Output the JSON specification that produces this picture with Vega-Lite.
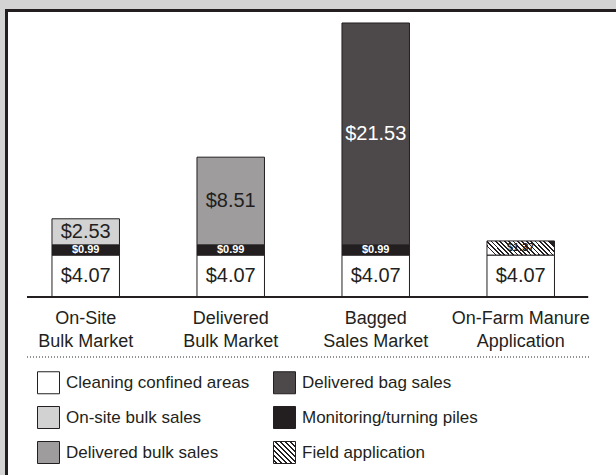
{
  "$schema": "https://vega.github.io/schema/vega-lite/v6.json",
  "autosize": "none",
  "width": 614.5,
  "height": 469.5,
  "padding": {"left": 6.5, "top": 10.5, "right": -5, "bottom": -5},
  "background": "#d3d3d3",
  "config": {
    "view": {"fill": "#ffffff", "stroke": "#231f20", "strokeWidth": 3},
    "text": {"font": "Liberation Sans"}
  },
  "params": [
    {"name": "hatchLegend", "value": {"gradient": "linear", "x1": 0, "y1": 1, "x2": 1, "y2": 0, "stops": [
      {"offset": 0, "color": "#ffffff"}, {"offset": 0.0667, "color": "#ffffff"}, {"offset": 0.0667, "color": "#231f20"}, {"offset": 0.1111, "color": "#231f20"},
      {"offset": 0.1111, "color": "#ffffff"}, {"offset": 0.1778, "color": "#ffffff"}, {"offset": 0.1778, "color": "#231f20"}, {"offset": 0.2222, "color": "#231f20"},
      {"offset": 0.2222, "color": "#ffffff"}, {"offset": 0.2889, "color": "#ffffff"}, {"offset": 0.2889, "color": "#231f20"}, {"offset": 0.3333, "color": "#231f20"},
      {"offset": 0.3333, "color": "#ffffff"}, {"offset": 0.4, "color": "#ffffff"}, {"offset": 0.4, "color": "#231f20"}, {"offset": 0.4444, "color": "#231f20"},
      {"offset": 0.4444, "color": "#ffffff"}, {"offset": 0.5111, "color": "#ffffff"}, {"offset": 0.5111, "color": "#231f20"}, {"offset": 0.5556, "color": "#231f20"},
      {"offset": 0.5556, "color": "#ffffff"}, {"offset": 0.6222, "color": "#ffffff"}, {"offset": 0.6222, "color": "#231f20"}, {"offset": 0.6667, "color": "#231f20"},
      {"offset": 0.6667, "color": "#ffffff"}, {"offset": 0.7333, "color": "#ffffff"}, {"offset": 0.7333, "color": "#231f20"}, {"offset": 0.7778, "color": "#231f20"},
      {"offset": 0.7778, "color": "#ffffff"}, {"offset": 0.8444, "color": "#ffffff"}, {"offset": 0.8444, "color": "#231f20"}, {"offset": 0.8889, "color": "#231f20"},
      {"offset": 0.8889, "color": "#ffffff"}, {"offset": 0.9556, "color": "#ffffff"}, {"offset": 0.9556, "color": "#231f20"}, {"offset": 1, "color": "#231f20"}
    ]}}
  ],
  "datasets": {
    "costs": [
      {"market": "On-Site\nBulk Market", "component": "Cleaning confined areas", "stage": 1, "value": 4.07},
      {"market": "On-Site\nBulk Market", "component": "Monitoring/turning piles", "stage": 2, "value": 0.99},
      {"market": "On-Site\nBulk Market", "component": "On-site bulk sales", "stage": 3, "value": 2.53},
      {"market": "Delivered\nBulk Market", "component": "Cleaning confined areas", "stage": 1, "value": 4.07},
      {"market": "Delivered\nBulk Market", "component": "Monitoring/turning piles", "stage": 2, "value": 0.99},
      {"market": "Delivered\nBulk Market", "component": "Delivered bulk sales", "stage": 3, "value": 8.51},
      {"market": "Bagged\nSales Market", "component": "Cleaning confined areas", "stage": 1, "value": 4.07},
      {"market": "Bagged\nSales Market", "component": "Monitoring/turning piles", "stage": 2, "value": 0.99},
      {"market": "Bagged\nSales Market", "component": "Delivered bag sales", "stage": 3, "value": 21.53},
      {"market": "On-Farm Manure\nApplication", "component": "Cleaning confined areas", "stage": 1, "value": 4.07},
      {"market": "On-Farm Manure\nApplication", "component": "Field application", "stage": 2, "value": 1.37}
    ]
  },
  "layer": [
    {
      "data": {"name": "costs"},
      "transform": [
        {"stack": "value", "groupby": ["market"], "sort": [{"field": "stage", "order": "ascending"}], "as": ["v0", "v1"]}
      ],
      "mark": {"type": "bar", "stroke": "#231f20", "strokeWidth": 1},
      "encoding": {
        "x": {
          "field": "market", "type": "nominal", "sort": null,
          "scale": {"paddingInner": 0.5345, "paddingOuter": 0.3862, "align": 0.406},
          "axis": {
            "title": null, "orient": "bottom", "offset": -183, "ticks": false, "domain": false,
            "labelFont": "Liberation Sans", "labelFontSize": 18, "labelColor": "#231f20",
            "labelLineHeight": 23, "labelPadding": 12, "labelAngle": 0, "labelLimit": 0,
            "labelExpr": "split(datum.label, '\\n')"
          }
        },
        "y": {
          "field": "v0", "type": "quantitative",
          "scale": {"domain": [-17.758, 27.803], "nice": false, "zero": false},
          "axis": null
        },
        "y2": {"field": "v1"},
        "fill": {
          "field": "component", "type": "nominal",
          "scale": {
            "domain": ["Cleaning confined areas", "On-site bulk sales", "Delivered bulk sales", "Delivered bag sales", "Monitoring/turning piles", "Field application"],
            "range": ["#ffffff", "#d2d2d2", "#9e9c9d", "#4d4849", "#231f20", {"expr": "hatchLegend"}]
          },
          "legend": {
            "orient": "none", "legendX": 30.5, "legendY": 360.5, "title": null,
            "columns": 2, "columnPadding": 21, "rowPadding": 8, "padding": 0,
            "symbolType": "square", "symbolSize": 484, "symbolStrokeColor": "#231f20", "symbolStrokeWidth": 1, "symbolOpacity": 1,
            "labelFont": "Liberation Sans", "labelFontSize": 17, "labelColor": "#231f20", "labelOffset": 6, "labelLimit": 0
          },
          "condition": {
            "test": "datum.component === 'Field application'",
            "value": {"gradient": "linear", "x1": 0, "y1": 0.602, "x2": 1, "y2": 0.398, "stops": [
              {"offset": 0, "color": "#ffffff"}, {"offset": 0.0375, "color": "#ffffff"}, {"offset": 0.0375, "color": "#231f20"}, {"offset": 0.0625, "color": "#231f20"},
              {"offset": 0.0625, "color": "#ffffff"}, {"offset": 0.1, "color": "#ffffff"}, {"offset": 0.1, "color": "#231f20"}, {"offset": 0.125, "color": "#231f20"},
              {"offset": 0.125, "color": "#ffffff"}, {"offset": 0.1625, "color": "#ffffff"}, {"offset": 0.1625, "color": "#231f20"}, {"offset": 0.1875, "color": "#231f20"},
              {"offset": 0.1875, "color": "#ffffff"}, {"offset": 0.225, "color": "#ffffff"}, {"offset": 0.225, "color": "#231f20"}, {"offset": 0.25, "color": "#231f20"},
              {"offset": 0.25, "color": "#ffffff"}, {"offset": 0.2875, "color": "#ffffff"}, {"offset": 0.2875, "color": "#231f20"}, {"offset": 0.3125, "color": "#231f20"},
              {"offset": 0.3125, "color": "#ffffff"}, {"offset": 0.35, "color": "#ffffff"}, {"offset": 0.35, "color": "#231f20"}, {"offset": 0.375, "color": "#231f20"},
              {"offset": 0.375, "color": "#ffffff"}, {"offset": 0.4125, "color": "#ffffff"}, {"offset": 0.4125, "color": "#231f20"}, {"offset": 0.4375, "color": "#231f20"},
              {"offset": 0.4375, "color": "#ffffff"}, {"offset": 0.475, "color": "#ffffff"}, {"offset": 0.475, "color": "#231f20"}, {"offset": 0.5, "color": "#231f20"},
              {"offset": 0.5, "color": "#ffffff"}, {"offset": 0.5375, "color": "#ffffff"}, {"offset": 0.5375, "color": "#231f20"}, {"offset": 0.5625, "color": "#231f20"},
              {"offset": 0.5625, "color": "#ffffff"}, {"offset": 0.6, "color": "#ffffff"}, {"offset": 0.6, "color": "#231f20"}, {"offset": 0.625, "color": "#231f20"},
              {"offset": 0.625, "color": "#ffffff"}, {"offset": 0.6625, "color": "#ffffff"}, {"offset": 0.6625, "color": "#231f20"}, {"offset": 0.6875, "color": "#231f20"},
              {"offset": 0.6875, "color": "#ffffff"}, {"offset": 0.725, "color": "#ffffff"}, {"offset": 0.725, "color": "#231f20"}, {"offset": 0.75, "color": "#231f20"},
              {"offset": 0.75, "color": "#ffffff"}, {"offset": 0.7875, "color": "#ffffff"}, {"offset": 0.7875, "color": "#231f20"}, {"offset": 0.8125, "color": "#231f20"},
              {"offset": 0.8125, "color": "#ffffff"}, {"offset": 0.85, "color": "#ffffff"}, {"offset": 0.85, "color": "#231f20"}, {"offset": 0.875, "color": "#231f20"},
              {"offset": 0.875, "color": "#ffffff"}, {"offset": 0.9125, "color": "#ffffff"}, {"offset": 0.9125, "color": "#231f20"}, {"offset": 0.9375, "color": "#231f20"},
              {"offset": 0.9375, "color": "#ffffff"}, {"offset": 0.975, "color": "#ffffff"}, {"offset": 0.975, "color": "#231f20"}, {"offset": 1, "color": "#231f20"}
            ]}
          }
        }
      }
    },
    {
      "data": {"name": "costs"},
      "transform": [
        {"stack": "value", "groupby": ["market"], "sort": [{"field": "stage", "order": "ascending"}], "as": ["v0", "v1"]},
        {"calculate": "(datum.v0 + datum.v1) / 2", "as": "mid"},
        {"filter": "datum.value >= 1.5"}
      ],
      "mark": {"type": "text", "font": "Liberation Sans", "fontSize": 20, "baseline": "middle", "align": "center"},
      "encoding": {
        "x": {"field": "market", "type": "nominal", "sort": null},
        "y": {"field": "mid", "type": "quantitative"},
        "text": {"field": "value", "type": "quantitative", "format": "$.2f"},
        "color": {"condition": {"test": "datum.component === 'Delivered bag sales'", "value": "#ffffff"}, "value": "#231f20"}
      }
    },
    {
      "data": {"name": "costs"},
      "transform": [
        {"stack": "value", "groupby": ["market"], "sort": [{"field": "stage", "order": "ascending"}], "as": ["v0", "v1"]},
        {"calculate": "(datum.v0 + datum.v1) / 2", "as": "mid"},
        {"filter": "datum.value < 1.5"}
      ],
      "mark": {"type": "text", "font": "Liberation Sans", "fontSize": 11, "fontWeight": "bold", "baseline": "middle", "align": "center"},
      "encoding": {
        "x": {"field": "market", "type": "nominal", "sort": null},
        "y": {"field": "mid", "type": "quantitative"},
        "text": {"field": "value", "type": "quantitative", "format": "$.2f"},
        "color": {"condition": {"test": "datum.component === 'Monitoring/turning piles'", "value": "#ffffff"}, "value": "#231f20"}
      }
    },
    {
      "data": {"values": [{}]},
      "mark": {"type": "rule", "stroke": "#231f20", "strokeWidth": 2},
      "encoding": {
        "x": {"datum": "On-Site\nBulk Market", "type": "nominal", "bandPosition": -0.37},
        "x2": {"datum": "On-Farm Manure\nApplication", "bandPosition": 1.5},
        "y": {"datum": 0}
      }
    },
    {
      "data": {"values": [{}]},
      "mark": {"type": "rule", "stroke": "#231f20", "strokeWidth": 1, "strokeDash": [1, 2]},
      "encoding": {
        "x": {"datum": "On-Site\nBulk Market", "type": "nominal", "bandPosition": -0.37},
        "x2": {"datum": "On-Farm Manure\nApplication", "bandPosition": 1.53},
        "y": {"datum": -5.822}
      }
    }
  ]
}
